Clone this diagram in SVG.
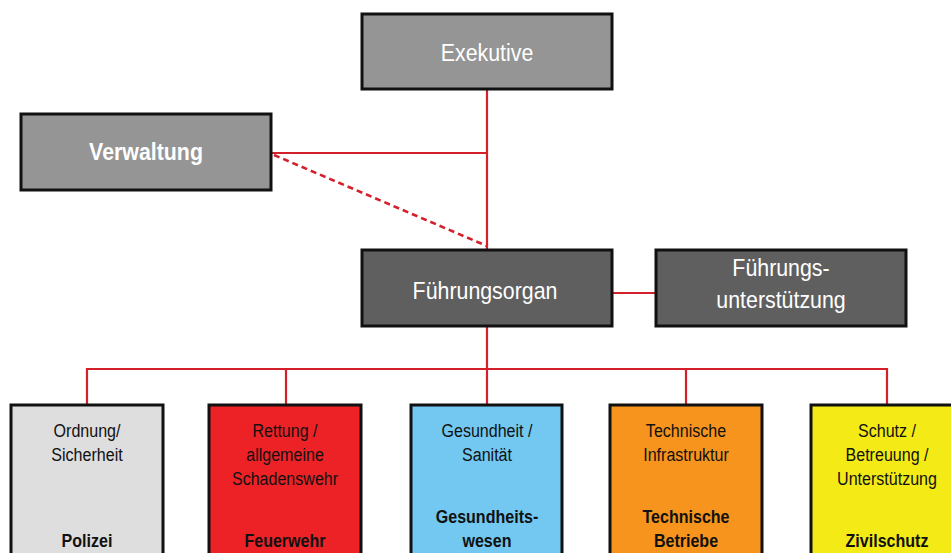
<svg xmlns="http://www.w3.org/2000/svg" width="951" height="553" viewBox="0 0 951 553">
  <style>
    .box { stroke: #111; stroke-width: 3; }
    .top { fill: #959595; }
    .dark { fill: #5f5f5f; }
    .link { stroke: #d4202a; stroke-width: 2.2; fill: none; }
    .dash { stroke-dasharray: 6 4; stroke-width: 2.6; }
    text { font-family: "Liberation Sans", Arial, sans-serif; text-anchor: middle; }
    .lg { font-size: 24px; fill: #fff; }
    .sm { font-size: 19px; fill: #111; }
    .b { font-weight: bold; }
  </style>

  <!-- connectors -->
  <g id="connectors">
    <line class="link" x1="487" y1="89" x2="487" y2="250"/>
    <line class="link" x1="272" y1="153" x2="487" y2="153"/>
    <line class="link dash" x1="274" y1="155" x2="487" y2="246"/>
    <line class="link" x1="612" y1="293" x2="656" y2="293"/>
    <line class="link" x1="487" y1="326" x2="487" y2="405"/>
    <line class="link" x1="86" y1="369" x2="888" y2="369"/>
    <line class="link" x1="87" y1="368" x2="87" y2="405"/>
    <line class="link" x1="286" y1="368" x2="286" y2="405"/>
    <line class="link" x1="686" y1="368" x2="686" y2="405"/>
    <line class="link" x1="887" y1="368" x2="887" y2="405"/>
  </g>

  <g id="exekutive">
    <rect class="box top" x="362" y="14" width="250" height="75"/>
    <g transform="translate(487,0) scale(0.89,1)">
      <text class="lg" x="0" y="61">Exekutive</text>
    </g>
  </g>

  <g id="verwaltung">
    <rect class="box top" x="21" y="114" width="250" height="76"/>
    <g transform="translate(146,0) scale(0.89,1)">
      <text class="lg b" x="0" y="160">Verwaltung</text>
    </g>
  </g>

  <g id="fuehrungsorgan">
    <rect class="box dark" x="362" y="250" width="250" height="76"/>
    <g transform="translate(485,0) scale(0.89,1)">
      <text class="lg" x="0" y="299">Führungsorgan</text>
    </g>
  </g>

  <g id="fuehrungsunterstuetzung">
    <rect class="box dark" x="656" y="250" width="250" height="76"/>
    <g transform="translate(781,0) scale(0.89,1)">
      <text class="lg" x="0" y="276">Führungs-</text>
      <text class="lg" x="0" y="308">unterstützung</text>
    </g>
  </g>

  <g id="polizei">
    <rect class="box" fill="#dedede" x="11" y="405" width="152" height="160"/>
    <g transform="translate(87,0) scale(0.845,1)">
      <text class="sm" x="0" y="437">Ordnung/</text>
      <text class="sm" x="0" y="461">Sicherheit</text>
      <text class="sm b" x="0" y="547">Polizei</text>
    </g>
  </g>

  <g id="feuerwehr">
    <rect class="box" fill="#ec2227" x="209" y="405" width="152" height="160"/>
    <g transform="translate(285,0) scale(0.845,1)">
      <text class="sm" x="0" y="437">Rettung /</text>
      <text class="sm" x="0" y="461">allgemeine</text>
      <text class="sm" x="0" y="485">Schadenswehr</text>
      <text class="sm b" x="0" y="547">Feuerwehr</text>
    </g>
  </g>

  <g id="gesundheitswesen">
    <rect class="box" fill="#72c8f0" x="411" y="405" width="151" height="160"/>
    <g transform="translate(487,0) scale(0.845,1)">
      <text class="sm" x="0" y="437">Gesundheit /</text>
      <text class="sm" x="0" y="461">Sanität</text>
      <text class="sm b" x="0" y="523">Gesundheits-</text>
      <text class="sm b" x="0" y="547">wesen</text>
    </g>
  </g>

  <g id="technische-betriebe">
    <rect class="box" fill="#f7941d" x="610" y="405" width="152" height="160"/>
    <g transform="translate(686,0) scale(0.845,1)">
      <text class="sm" x="0" y="437">Technische</text>
      <text class="sm" x="0" y="461">Infrastruktur</text>
      <text class="sm b" x="0" y="523">Technische</text>
      <text class="sm b" x="0" y="547">Betriebe</text>
    </g>
  </g>

  <g id="zivilschutz">
    <rect class="box" fill="#f4eb16" x="811" y="405" width="152" height="160"/>
    <g transform="translate(887,0) scale(0.845,1)">
      <text class="sm" x="0" y="437">Schutz /</text>
      <text class="sm" x="0" y="461">Betreuung /</text>
      <text class="sm" x="0" y="485">Unterstützung</text>
      <text class="sm b" x="0" y="547">Zivilschutz</text>
    </g>
  </g>
</svg>
